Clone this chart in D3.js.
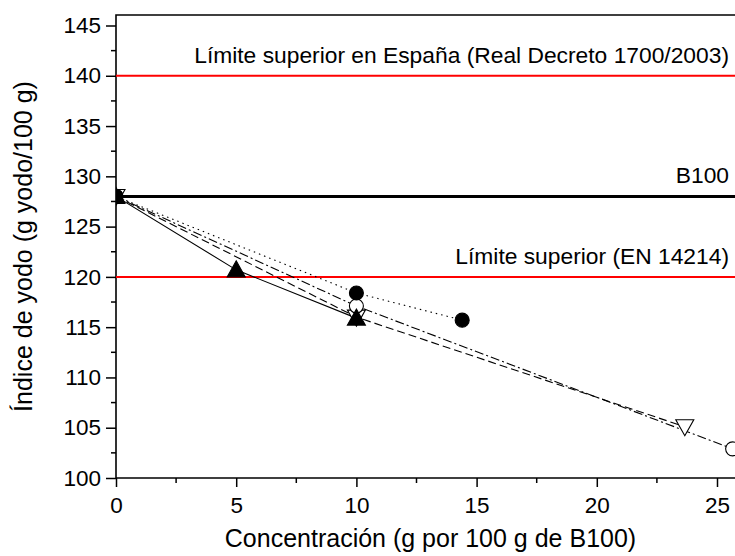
<!DOCTYPE html>
<html>
<head>
<meta charset="utf-8">
<script src="https://cdn.jsdelivr.net/npm/d3@7"></script>
<style>
  html, body { margin: 0; padding: 0; background: #fff; }
  svg { display: block; font-family: "Liberation Sans", Arial, sans-serif; }
</style>
</head>
<body>
<svg id="chart" width="735" height="556"></svg>
<script>
// Iodine value of B100 blends vs. additive concentration
const xTicks = [0, 5, 10, 15, 20, 25];
const yTicks = [100, 105, 110, 115, 120, 125, 130, 135, 140, 145];

// series: concentration (g per 100 g of B100) and iodine value
const filledTriangleX = [0, 5, 10];
const filledTriangleY = [128, 120.7, 115.9];
const filledCircleX = [0, 10, 14.4];
const filledCircleY = [128, 118.4, 115.7];
const openCircleX = [0, 10, 25.65];
const openCircleY = [128, 117.1, 102.9];
const openTriangleX = [0, 10, 23.66];
const openTriangleY = [128, 116.0, 105.1];

// reference levels
const refValues = [140, 128, 120];
const refLabels = ["Límite superior en España (Real Decreto 1700/2003)", "B100", "Límite superior (EN 14214)"];
const refColors = ["#ff0000", "#000000", "#ff0000"];

const xTitle = "Concentración (g por 100 g de B100)";
const yTitle = "Índice de yodo (g yodo/100 g)";

const svg = d3.select("#chart");
const pLeft = 116, pTop = 15, pBottom = 478, pRight = 745;

const x = d3.scaleLinear().domain([0, 25]).range([pLeft, 717]);
const y = d3.scaleLinear().domain([100, 145]).range([pBottom, 25.5]);

svg.append("defs").append("clipPath").attr("id", "plot")
  .append("rect").attr("x", pLeft).attr("y", pTop).attr("width", pRight - pLeft).attr("height", pBottom - pTop);

// axes
const minorX = d3.range(0, 26, 2.5).filter(v => v % 5 !== 0);
const minorY = d3.range(100, 146, 2.5).filter(v => v % 5 !== 0);

const xAxis = svg.append("g").attr("transform", `translate(0,${pBottom})`)
  .call(d3.axisBottom(x).tickValues(xTicks).tickSize(9).tickPadding(10).tickFormat(d3.format("d")));
xAxis.append("g").selectAll("line").data(minorX).join("line")
  .attr("x1", d => x(d)).attr("x2", d => x(d)).attr("y1", 0).attr("y2", 5);

const yAxis = svg.append("g").attr("transform", `translate(${pLeft},0)`)
  .call(d3.axisLeft(y).tickValues(yTicks).tickSize(10).tickPadding(5).tickFormat(d3.format("d")));
yAxis.append("g").selectAll("line").data(minorY).join("line")
  .attr("x1", 0).attr("x2", -5).attr("y1", d => y(d)).attr("y2", d => y(d));

[xAxis, yAxis].forEach(g => {
  g.selectAll(".domain").remove();
  g.selectAll("line").attr("stroke", "#000").attr("stroke-width", 1.5);
  g.selectAll("text").attr("fill", "#000").style("font-size", "22.5px");
});

// frame
svg.append("path")
  .attr("d", `M${pRight},${pTop}H${pLeft}V${pBottom}H${pRight}`)
  .attr("fill", "none").attr("stroke", "#000").attr("stroke-width", 1.6);

const plot = svg.append("g").attr("clip-path", "url(#plot)");

// reference lines
refValues.forEach((v, i) => {
  plot.append("line")
    .attr("x1", pLeft).attr("x2", pRight).attr("y1", y(v)).attr("y2", y(v))
    .attr("stroke", refColors[i]).attr("stroke-width", i === 1 ? 3 : 2);
  svg.append("text")
    .attr("x", 729).attr("y", y(v) - 13)
    .attr("text-anchor", "end").style("font-size", "22.8px").attr("fill", "#000")
    .text(refLabels[i]);
});

const line = d3.line().x(d => x(d[0])).y(d => y(d[1]));
const zip = (a, b) => a.map((v, i) => [v, b[i]]);

const series = [
  { xs: filledTriangleX, ys: filledTriangleY, dash: null, mark: "triUp", fill: "#000" },
  { xs: filledCircleX, ys: filledCircleY, dash: "1.5,4", mark: "circle", fill: "#000" },
  { xs: openCircleX, ys: openCircleY, dash: "9,3,2,3", mark: "circle", fill: "#fff" },
  { xs: openTriangleX, ys: openTriangleY, dash: "8,4", mark: "triDown", fill: "#fff" }
];

series.forEach(s => {
  plot.append("path")
    .attr("d", line(zip(s.xs, s.ys)))
    .attr("fill", "none").attr("stroke", "#000").attr("stroke-width", 1.1)
    .attr("stroke-dasharray", s.dash);
});

const symbolPath = m => {
  if (m === "circle") return "M7,0A7,7 0 1,1 -7,0A7,7 0 1,1 7,0Z";
  if (m === "triUp") return "M0,-9L9,7L-9,7Z";
  return "M0,9L9,-7L-9,-7Z";
};

// markers drawn back to front
[3, 2, 1, 0].forEach(k => {
  const s = series[k];
  plot.append("g").selectAll("path").data(zip(s.xs, s.ys)).join("path")
    .attr("transform", d => `translate(${x(d[0])},${y(d[1])})`)
    .attr("d", symbolPath(s.mark))
    .attr("fill", s.fill).attr("stroke", "#000").attr("stroke-width", 1.1);
});

// axis titles
svg.append("text")
  .attr("x", (pLeft + pRight) / 2).attr("y", 547).attr("text-anchor", "middle")
  .style("font-size", "25px").attr("fill", "#000").text(xTitle);
svg.append("text")
  .attr("transform", `translate(32,${(pTop + pBottom) / 2}) rotate(-90)`)
  .attr("text-anchor", "middle")
  .style("font-size", "25px").attr("fill", "#000").text(yTitle);
</script>
</body>
</html>
